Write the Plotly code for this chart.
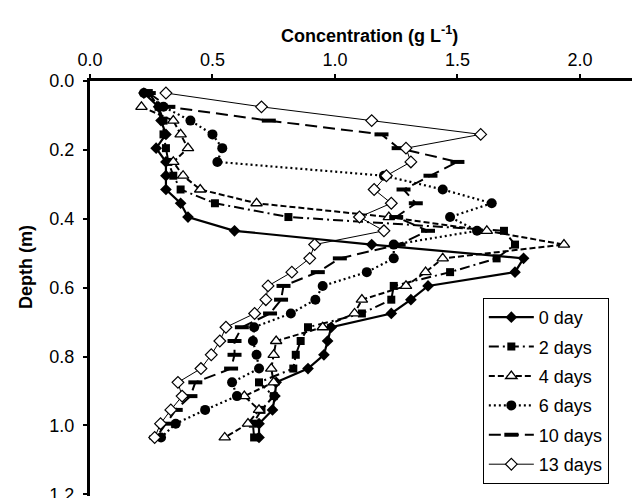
import plotly.graph_objects as go

depth = [0.035, 0.075, 0.115, 0.155, 0.195, 0.235, 0.275, 0.315, 0.355, 0.395,
         0.435, 0.475, 0.515, 0.555, 0.595, 0.635, 0.675, 0.715, 0.755, 0.795,
         0.835, 0.875, 0.915, 0.955, 0.995, 1.035]

day0 = [0.22, 0.28, 0.29, 0.31, 0.27, 0.31, 0.31, 0.31, 0.37, 0.40, 0.59, 1.15, 1.77,
        1.735, 1.38, 1.31, 1.23, 0.985, 0.97, 0.955, 0.89, 0.76, 0.755, 0.745, 0.69, 0.69]
day2 = [0.24, 0.28, 0.30, 0.30, 0.31, 0.32, 0.34, 0.37, 0.51, 0.81, 1.69, 1.735, 1.66,
        1.47, 1.24, 1.23, 1.11, 0.89, 0.86, 0.84, 0.83, 0.69, 0.75, 0.70, 0.665, 0.67]
day4 = [None, 0.21, 0.34, 0.37, 0.40, 0.34, 0.38, 0.45, 0.68, 1.22, 1.62, 1.935, 1.44,
        1.37, 1.29, 1.11, 1.08, 0.95, 0.76, 0.75, 0.74, 0.75, 0.63, 0.69, 0.645, 0.55]
day6 = [0.22, 0.30, 0.41, 0.50, 0.54, 0.52, 1.20, 1.44, 1.64, 1.47, 1.58, 1.24, 1.24,
        1.13, 0.95, 0.92, 0.82, 0.67, 0.665, 0.68, 0.69, 0.58, 0.60, 0.47, 0.35, 0.29]
day10 = [0.24, 0.32, 0.73, 1.19, 1.26, 1.50, 1.39, 1.28, 1.33, 1.25, 1.38, 1.26, 1.02,
         0.93, 0.79, 0.78, 0.735, 0.62, 0.59, 0.59, 0.576, 0.43, 0.41, 0.35, 0.31, 0.27]
day13 = [0.31, 0.70, 1.15, 1.595, 1.29, 1.31, 1.21, 1.16, 1.23, 1.10, 1.20, 0.917, 0.897,
         0.824, 0.727, 0.718, 0.672, 0.555, 0.53, 0.495, 0.453, 0.359, 0.376, 0.33, 0.288, 0.264]

names = ["0 day", "2 days", "4 days", "6 days", "10 days", "13 days"]
x_ticks = [0.0, 0.5, 1.0, 1.5, 2.0]
y_ticks = [0.0, 0.2, 0.4, 0.6, 0.8, 1.0, 1.2]

styles = [
    dict(line=dict(color="black", width=2.2, dash="solid"),
         marker=dict(symbol="diamond", size=9, color="black")),
    dict(line=dict(color="black", width=2, dash="10px,4px,2px,4px"),
         marker=dict(symbol="square", size=8, color="black")),
    dict(line=dict(color="black", width=2, dash="6px,3px"),
         marker=dict(symbol="triangle-up", size=10, color="white",
                     line=dict(color="black", width=1.3))),
    dict(line=dict(color="black", width=2.2, dash="2px,3px"),
         marker=dict(symbol="circle", size=10, color="black")),
    dict(line=dict(color="black", width=2, dash="12px,6px"),
         marker=dict(symbol="line-ew", size=10, color="black",
                     line=dict(color="black", width=4))),
    dict(line=dict(color="black", width=1, dash="solid"),
         marker=dict(symbol="diamond", size=9, color="white",
                     line=dict(color="black", width=1.2))),
]

series = [day0, day2, day4, day6, day10, day13]

fig = go.Figure()
for name, vals, st in zip(names, series, styles):
    fig.add_trace(go.Scatter(x=vals, y=depth, mode="lines+markers", name=name,
                             legendgroup=name, connectgaps=False, **st))

H_PLOT = 498 - 73 - 10
font = "Liberation Sans, Arial, sans-serif"
fig.update_layout(
    width=640, height=498,
    margin=dict(l=82, r=0, t=73, b=10),
    paper_bgcolor="white", plot_bgcolor="white",
    font=dict(family=font, size=18, color="black"),
    showlegend=True,
    legend=dict(x=0.704, y=1 - (290 - 73) / H_PLOT, xanchor="left", yanchor="top",
                bordercolor="black", borderwidth=1, bgcolor="white",
                font=dict(size=18), tracegroupgap=3, itemwidth=45),
    xaxis=dict(side="top", range=[0, 2.278], tickvals=x_ticks, tickformat=".1f",
               showgrid=False, zeroline=False, showline=True, linecolor="black",
               linewidth=3, ticks="outside", ticklen=4, tickwidth=1.5, tickcolor="black",
               ticklabelstandoff=1),
    yaxis=dict(range=[1.205, 0], tickvals=y_ticks, tickformat=".1f",
               showgrid=False, zeroline=False, showline=True, linecolor="black",
               linewidth=3, ticks="outside", ticklen=4, tickwidth=1.5, tickcolor="black",
               ticklabelstandoff=5, ticklabeloverflow="allow"),
    annotations=[
        dict(text="<b>Concentration (g L<sup>-1</sup>)</b>", xref="paper", yref="paper",
             x=0.5, y=1 + (73 - 27) / H_PLOT, xanchor="center", yanchor="middle",
             showarrow=False, font=dict(size=18)),
        dict(text="<b>Depth (m)</b>", xref="paper", yref="paper",
             x=(18 - 82) / 558, y=1 - (259 - 73) / H_PLOT, xanchor="center", yanchor="middle",
             textangle=-90, showarrow=False, font=dict(size=18)),
    ],
)

fig.write_html("out.html")
